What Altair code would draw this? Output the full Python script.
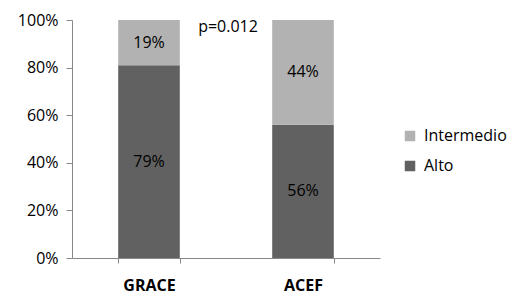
import altair as alt
import pandas as pd

categories = ["GRACE", "GRACE", "ACEF", "ACEF"]
series = ["Alto", "Intermedio", "Alto", "Intermedio"]
values = [81, 19, 56, 44]
labels = ["79%", "19%", "56%", "44%"]
order = [0, 1, 0, 1]

df = pd.DataFrame({"cat": categories, "serie": series, "value": values,
                   "label": labels, "ord": order})

FONT = "Open Sans"

base = alt.Chart(df).transform_stack(
    stack="value", groupby=["cat"], as_=["y0", "y1"],
    sort=[alt.SortField("ord", order="ascending")]
).transform_calculate(mid="(datum.y0 + datum.y1) / 2")

x = alt.X("cat:N", sort=["GRACE", "ACEF"], title=None,
          scale=alt.Scale(paddingInner=0.6, paddingOuter=0.3),
          axis=alt.Axis(labelAngle=0, labelFont=FONT, labelFontSize=16,
                        labelFontWeight="bold", labelColor="#000000",
                        labelPadding=14, domainColor="#888888",
                        tickColor="#888888", tickSize=5, tickBand="extent"))

bars = base.mark_bar().encode(
    x=x,
    y=alt.Y("y0:Q", scale=alt.Scale(domain=[0, 100]), title=None,
            axis=alt.Axis(values=[0, 20, 40, 60, 80, 100], labelExpr="datum.value + '%'",
                          grid=False, labelFont=FONT, labelFontSize=16,
                          labelColor="#000000", domainColor="#888888",
                          tickColor="#888888", tickSize=6, labelPadding=8)),
    y2="y1:Q",
    color=alt.Color("serie:N",
                    scale=alt.Scale(domain=["Intermedio", "Alto"],
                                    range=["#b2b2b2", "#616161"]),
                    legend=alt.Legend(title=None, orient="none", legendX=330, legendY=108,
                                      labelFont=FONT, labelFontSize=16,
                                      labelColor="#000000", symbolType="square",
                                      symbolSize=110, symbolStrokeWidth=0,
                                      rowPadding=14, labelOffset=6)),
)

text = base.mark_text(font=FONT, fontSize=16, color="#000000").encode(
    x=alt.X("cat:N", sort=["GRACE", "ACEF"]),
    y=alt.Y("mid:Q"),
    text="label:N",
)

pvalue = ["p=0.012"]
ptext = alt.Chart(pd.DataFrame({"t": pvalue})).mark_text(
    font=FONT, fontSize=16, color="#000000", align="center", baseline="middle"
).encode(x=alt.value(156), y=alt.value(7), text="t:N")

chart = alt.layer(bars, text, ptext).properties(
    width=308, height=238,
    autosize=alt.AutoSizeParams(type="none"),
    padding={"left": 72, "top": 20, "right": 138, "bottom": 46},
    background="#ffffff",
).configure_view(stroke=None)

chart.save("out.html", embed_options={"renderer": "svg", "actions": False})
